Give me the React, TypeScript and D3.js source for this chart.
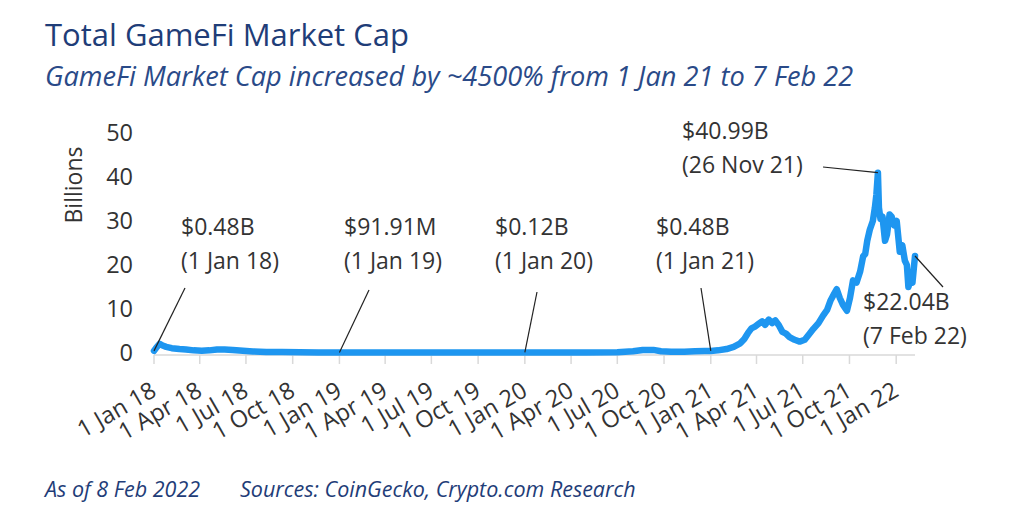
import React from "react";
import * as d3 from "d3";

const title = "Total GameFi Market Cap";
const subtitle = "GameFi Market Cap increased by ~4500% from 1 Jan 21 to 7 Feb 22";
const footerDate = "As of 8 Feb 2022";
const footerSource = "Sources: CoinGecko, Crypto.com Research";
const yLabel = "Billions";

const yTicks = [0, 10, 20, 30, 40, 50];
const xTickDates = [
  "2018-01-01", "2018-04-01", "2018-07-01", "2018-10-01",
  "2019-01-01", "2019-04-01", "2019-07-01", "2019-10-01",
  "2020-01-01", "2020-04-01", "2020-07-01", "2020-10-01",
  "2021-01-01", "2021-04-01", "2021-07-01", "2021-10-01",
  "2022-01-01",
];

const dates = [
  "2018-01-01", "2018-01-06", "2018-01-12", "2018-01-18", "2018-01-25", "2018-02-05", "2018-02-20",
  "2018-03-05", "2018-03-20", "2018-04-05", "2018-04-20", "2018-05-05", "2018-05-20", "2018-06-05",
  "2018-06-25", "2018-07-15", "2018-08-10", "2018-09-10", "2018-10-15", "2018-11-20", "2019-01-01",
  "2019-03-01", "2019-05-01", "2019-07-01", "2019-09-01", "2019-11-01", "2020-01-01", "2020-03-01",
  "2020-05-01", "2020-07-01", "2020-08-01", "2020-08-20", "2020-09-10", "2020-09-25", "2020-10-15",
  "2020-11-10", "2020-12-01", "2020-12-20", "2021-01-01", "2021-01-15", "2021-02-01", "2021-02-15",
  "2021-02-28", "2021-03-08", "2021-03-15", "2021-03-22", "2021-03-29", "2021-04-05", "2021-04-12",
  "2021-04-18", "2021-04-25", "2021-05-02", "2021-05-08", "2021-05-15", "2021-05-22", "2021-05-29",
  "2021-06-05", "2021-06-15", "2021-06-25", "2021-07-05", "2021-07-14", "2021-07-22", "2021-08-01",
  "2021-08-10", "2021-08-18", "2021-08-25", "2021-09-01", "2021-09-06", "2021-09-12", "2021-09-18",
  "2021-09-26", "2021-10-02", "2021-10-08", "2021-10-15", "2021-10-22", "2021-10-28", "2021-11-01",
  "2021-11-05", "2021-11-10", "2021-11-16", "2021-11-20", "2021-11-23", "2021-11-26", "2021-11-28",
  "2021-12-01", "2021-12-05", "2021-12-10", "2021-12-14", "2021-12-19", "2021-12-23", "2021-12-28",
  "2022-01-02", "2022-01-08", "2022-01-13", "2022-01-18", "2022-01-22", "2022-01-25", "2022-01-29",
  "2022-02-02", "2022-02-07",
];
const values = [
  0.48, 1.3, 2.1, 1.7, 1.4, 1.1, 0.9,
  0.8, 0.6, 0.5, 0.6, 0.8, 0.8, 0.7,
  0.5, 0.35, 0.25, 0.2, 0.15, 0.1, 0.09,
  0.1, 0.1, 0.12, 0.1, 0.1, 0.12, 0.1,
  0.1, 0.15, 0.4, 0.7, 0.7, 0.4, 0.3,
  0.3, 0.4, 0.45, 0.48, 0.6, 0.9, 1.4,
  2.2, 3.2, 4.5, 5.6, 6.0, 6.6, 7.2,
  6.4, 7.6, 6.8, 7.4, 6.3, 4.8, 4.4,
  3.6, 3.0, 2.6, 3.0, 4.3, 5.5, 6.8,
  8.5, 9.8, 12.0, 13.5, 14.5, 12.5, 11.0,
  9.6, 12.5, 16.5, 16.0, 18.5, 22.0, 22.5,
  25.5, 28.0, 30.0, 33.0, 36.0, 40.99, 33.0,
  30.5, 31.0, 25.5, 27.0, 31.5, 31.0, 29.0,
  30.0, 23.0, 24.5, 21.0, 20.0, 15.0, 16.5,
  16.0, 22.04,
];

const annoDates = ["2018-01-01", "2019-01-01", "2020-01-01", "2021-01-01", "2021-11-26", "2022-02-07"];
const annoValues = [0.48, 0.09191, 0.12, 0.48, 40.99, 22.04];
const annoLine1 = ["$0.48B", "$91.91M", "$0.12B", "$0.48B", "$40.99B", "$22.04B"];
const annoLine2 = ["(1 Jan 18)", "(1 Jan 19)", "(1 Jan 20)", "(1 Jan 21)", "(26 Nov 21)", "(7 Feb 22)"];
// layout of annotation text and leader lines (pixel offsets)
const annoTextPos = [[181, 235], [344, 235], [495, 235], [656, 235], [682, 139], [863, 310]];
const annoLeaderStart = [[185, 288], [369, 290], [537, 292], [701, 288], [823, 167], [943, 287]];

const parse = d3.timeParse("%Y-%m-%d");
const fmt = d3.timeFormat("%-d %b %y");

export default function App() {
  const W = 1024, H = 512;
  const x = d3.scaleTime().domain([parse("2018-01-01")!, parse("2022-02-07")!]).range([154, 915]);
  const y = d3.scaleLinear().domain([0, 50]).range([353, 133]);
  const data = dates.map((d, i) => ({ date: parse(d)!, v: values[i] }));
  const line = d3.line<{ date: Date; v: number }>().x((d) => x(d.date)).y((d) => y(d.v)).curve(d3.curveLinear);
  const ff = "'Open Sans', 'Noto Sans', sans-serif";
  const navy = "#1f3d78";
  const grey = "#333333";
  const axisY = 355;

  return (
    <svg width={W} height={H} style={{ position: "absolute", left: 0, top: 0, background: "#fff" }} fontFamily={ff}>
      <rect x={0} y={0} width={W} height={H} fill="#fff" />
      <text x={45} y={46} fontSize={31} fill={navy}>{title}</text>
      <text x={45} y={86} fontSize={27.2} fontStyle="italic" fill="#2a4a88">{subtitle}</text>

      {/* y axis */}
      <text transform={`translate(82,185) rotate(-90)`} textAnchor="middle" fontSize={23} fill={grey}>{yLabel}</text>
      {yTicks.map((t) => (
        <text key={t} x={133} y={y(t)} dy="0.35em" textAnchor="end" fontSize={23.5} fill={grey}>{t}</text>
      ))}

      {/* x axis */}
      <line x1={x.range()[0]} x2={x.range()[1]} y1={axisY} y2={axisY} stroke="#d9d9d9" strokeWidth={1.5} />
      {xTickDates.map((s) => {
        const d = parse(s)!;
        const px = x(d);
        return (
          <g key={s}>
            <line x1={px} x2={px} y1={axisY} y2={axisY + 9} stroke="#d9d9d9" strokeWidth={1.5} />
            <text transform={`translate(${px + 4},${axisY + 40}) rotate(-30)`} textAnchor="end" fontSize={23.5} fill={grey}>
              {fmt(d)}
            </text>
          </g>
        );
      })}

      {/* series */}
      <path d={line(data) || ""} fill="none" stroke="#1e96f0" strokeWidth={6.5} strokeLinejoin="round" strokeLinecap="round" />

      {/* annotations */}
      {annoDates.map((s, i) => {
        const d = parse(s)!;
        return (
          <g key={i}>
            <line x1={annoLeaderStart[i][0]} y1={annoLeaderStart[i][1]} x2={x(d)} y2={y(annoValues[i])} stroke="#222" strokeWidth={1.2} />
            <text x={annoTextPos[i][0]} y={annoTextPos[i][1]} fontSize={23} fill={grey}>{annoLine1[i]}</text>
            <text x={annoTextPos[i][0]} y={annoTextPos[i][1] + 34} fontSize={23} fill={grey}>{annoLine2[i]}</text>
          </g>
        );
      })}

      <text x={45} y={497} fontSize={21.5} fontStyle="italic" fill={navy}>{footerDate}</text>
      <text x={240} y={497} fontSize={21.5} fontStyle="italic" fill={navy}>{footerSource}</text>
    </svg>
  );
}
